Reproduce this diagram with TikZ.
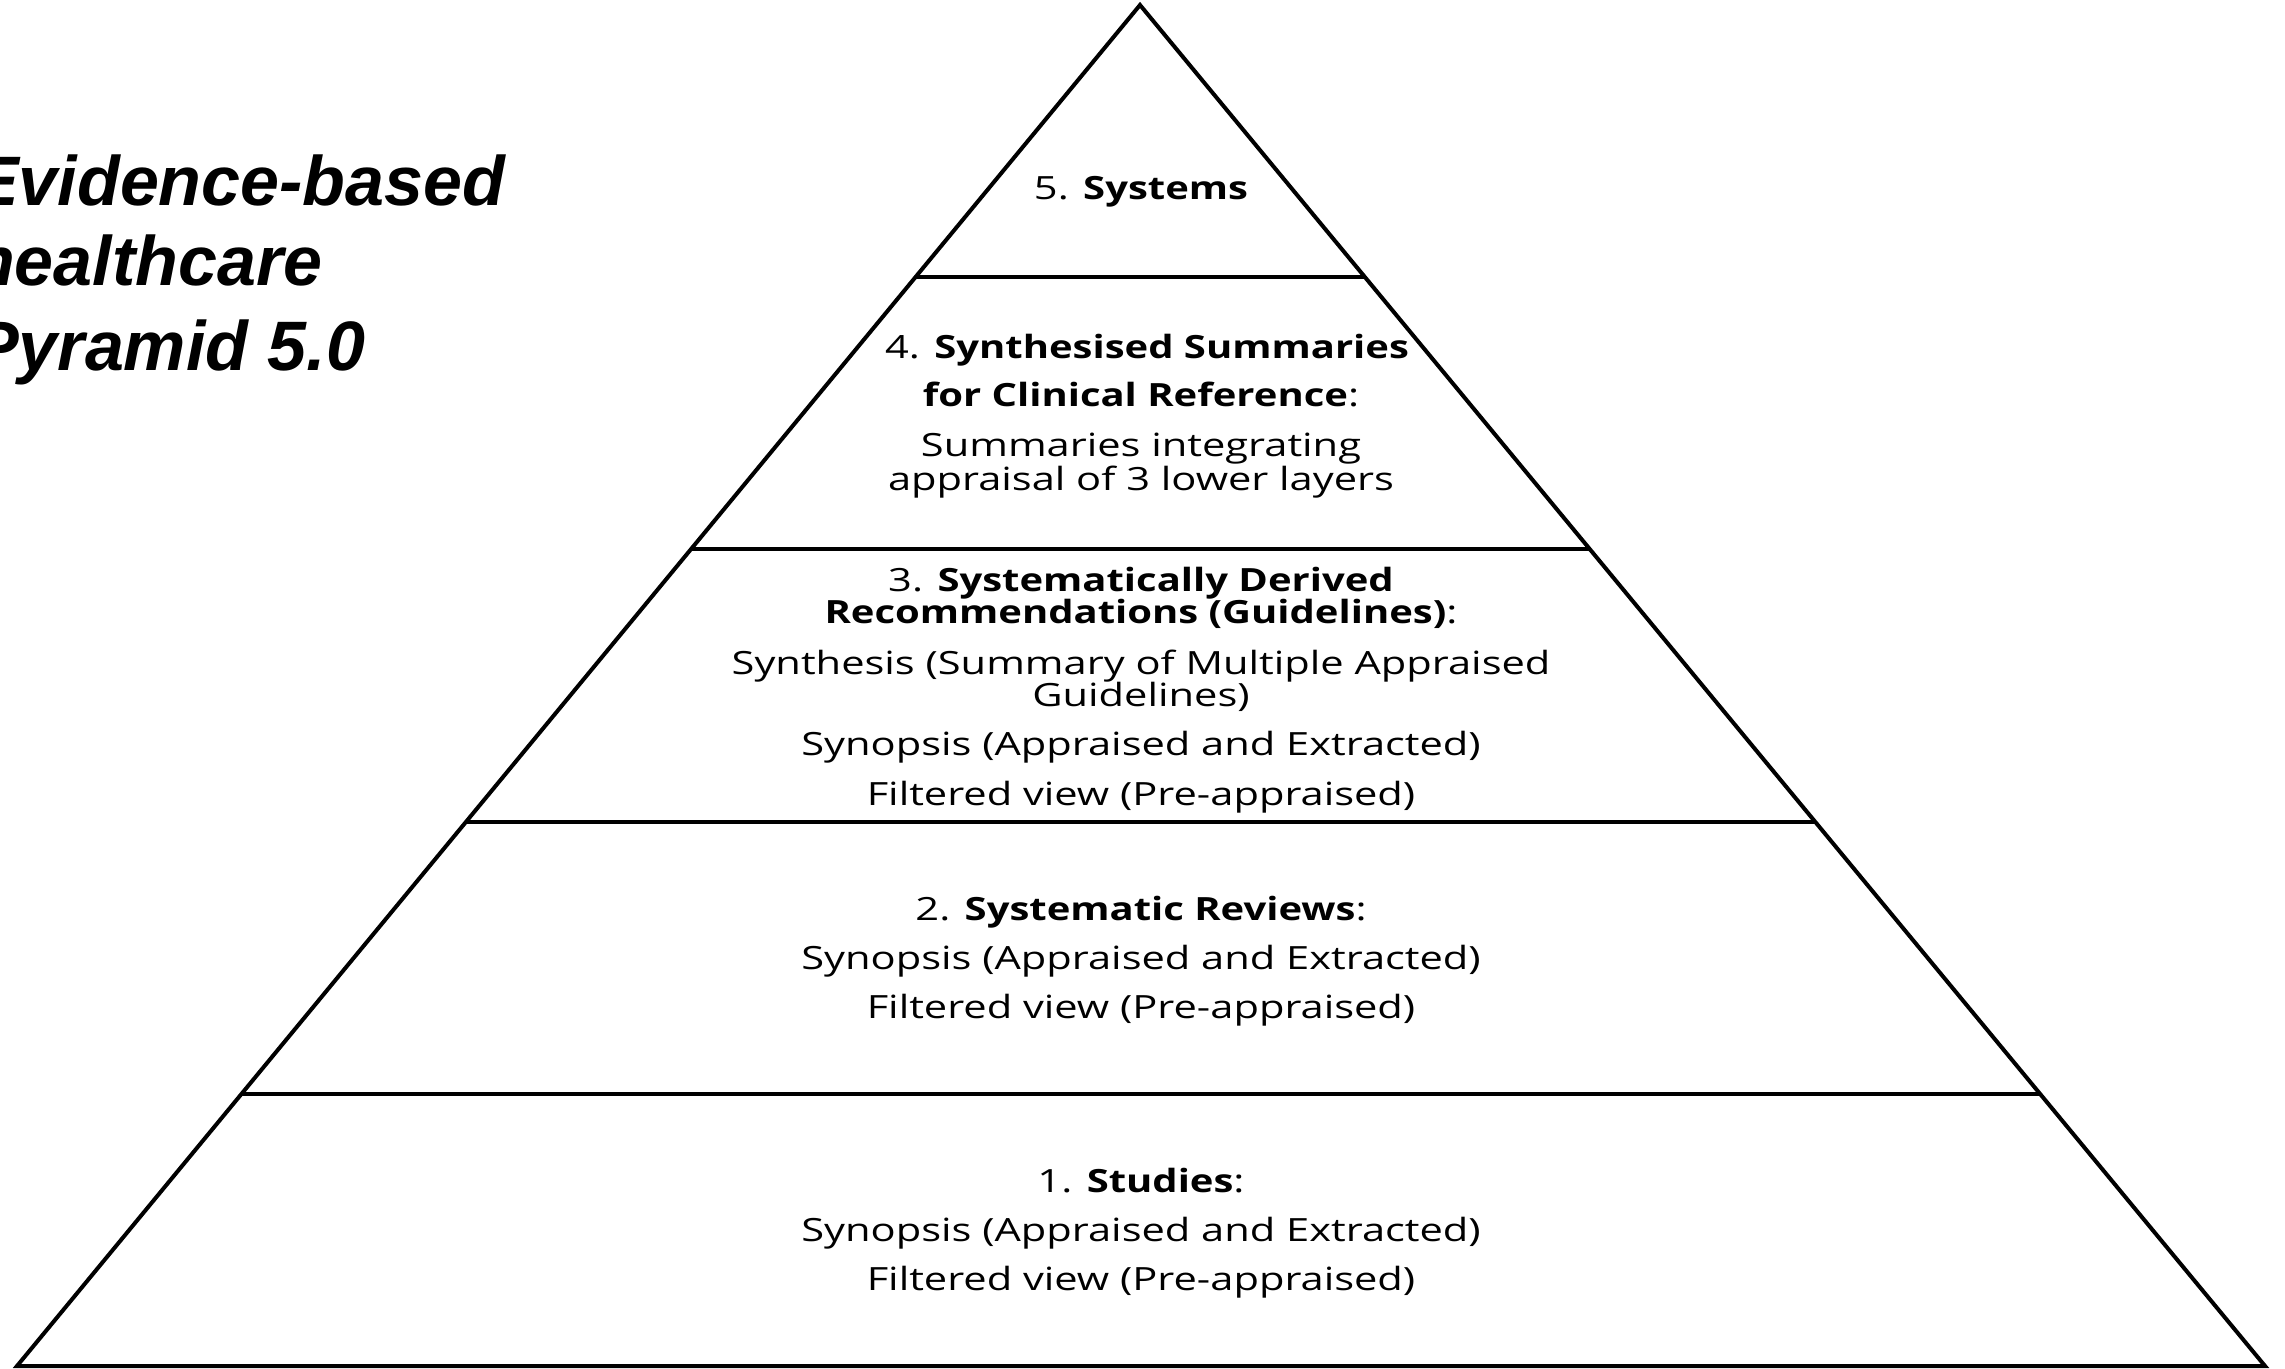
\documentclass[tikz,border=0pt]{standalone}
\usepackage{fontspec}
\usetikzlibrary{calc}
\newfontfamily\labfont[FakeStretch=1.3,BoldFeatures={FakeStretch=1.25}]{Open Sans}
\newfontfamily\titlefont{Liberation Sans}
\tikzset{
  edge/.style={line width=4pt, line join=miter},
  lab/.style={anchor=base, inner sep=0pt, font=\labfont\fontsize{32}{38}\selectfont},
  ttl/.style={anchor=base west, inner sep=0pt, font=\titlefont\bfseries\itshape\fontsize{70}{80}\selectfont}
}
\begin{document}
\begin{tikzpicture}[x=1pt,y=-1pt]
\useasboundingbox (0,0) rectangle (2285,1368);
\clip (0,0) rectangle (2285,1368);
\fill[white] (0,0) rectangle (2285,1368);
% pyramid
\coordinate (apex) at (1140,5);
\coordinate (bl) at (17,1366);
\coordinate (br) at (2265,1366);
\draw[edge] (bl) -- (apex) -- (br) -- cycle;
\foreach \t/\n in {0.2/a,0.4/b,0.6/c,0.8/d}{
  \coordinate (L\n) at ($(apex)!\t!(bl)$);
  \coordinate (R\n) at ($(apex)!\t!(br)$);
  \draw[edge] (L\n) -- (R\n);
}
% title
\node[ttl] (t1) at (-28,205) {Evidence-based};
\node[ttl] (t2) at (-28,285) {healthcare};
\node[ttl] (t3) at (-28,370) {Pyramid 5.0};
% layer 5
\node[lab] (l5a) at (1141,199) {5. \textbf{Systems}};
% layer 4
\node[lab] (l4a) at (1147,358) {4. \textbf{Synthesised Summaries}};
\node[lab] (l4b) at (1141,406) {\textbf{for Clinical Reference}:};
\node[lab] (l4c) at (1141,456) {Summaries integrating};
\node[lab] (l4d) at (1141,490) {appraisal of 3 lower layers};
% layer 3
\node[lab] (l3a) at (1141,591) {3. \textbf{Systematically Derived}};
\node[lab] (l3b) at (1141,623) {\textbf{Recommendations (Guidelines)}:};
\node[lab] (l3c) at (1141,674) {Synthesis (Summary of Multiple Appraised};
\node[lab] (l3d) at (1141,706) {Guidelines)};
\node[lab] (l3e) at (1141,755) {Synopsis (Appraised and Extracted)};
\node[lab] (l3f) at (1141,805) {Filtered view (Pre-appraised)};
% layer 2
\node[lab] (l2a) at (1141,920) {2. \textbf{Systematic Reviews}:};
\node[lab] (l2b) at (1141,969) {Synopsis (Appraised and Extracted)};
\node[lab] (l2c) at (1141,1018) {Filtered view (Pre-appraised)};
% layer 1
\node[lab] (l1a) at (1141,1192) {1. \textbf{Studies}:};
\node[lab] (l1b) at (1141,1241) {Synopsis (Appraised and Extracted)};
\node[lab] (l1c) at (1141,1290) {Filtered view (Pre-appraised)};
\end{tikzpicture}
\end{document}
